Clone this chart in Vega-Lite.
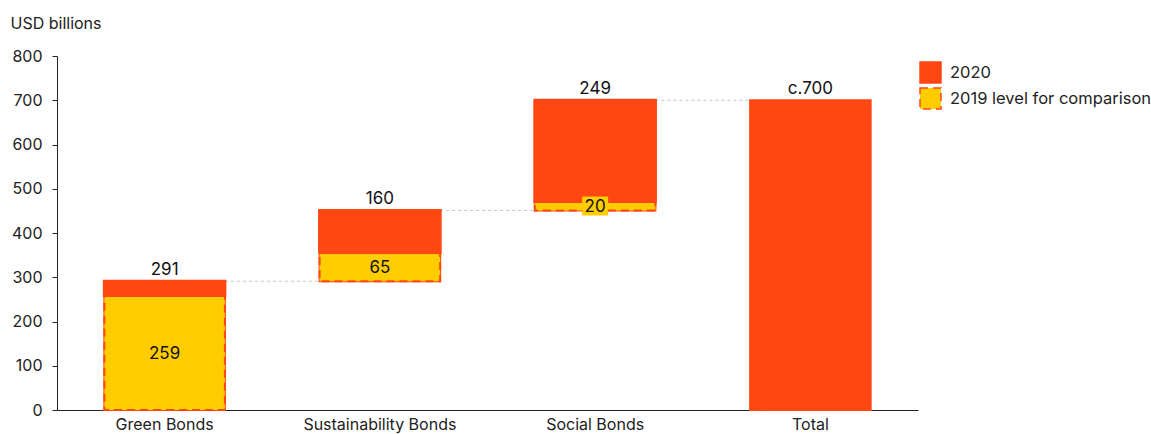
{
  "$schema": "https://vega.github.io/schema/vega-lite/v6.json",
  "width": 861,
  "height": 354,
  "autosize": {"type": "none"},
  "padding": {"left": 57, "top": 56, "right": 233, "bottom": 24},
  "background": "white",
  "config": {
    "font": "Inter",
    "view": {"stroke": null},
    "axis": {"labelColor": "#222", "titleColor": "#222", "domainColor": "#222", "tickColor": "#222", "grid": false, "labelFontSize": 16, "titleFontSize": 16, "titleFontWeight": "normal", "labelFont": "Inter", "titleFont": "Inter"},
    "legend": {"labelFontSize": 16.5, "labelColor": "#222", "labelFont": "Inter"}
  },
  "datasets": {
    "bars": [
      {"category": "Green Bonds", "series": "2020", "start": 0, "end": 291},
      {"category": "Sustainability Bonds", "series": "2020", "start": 291, "end": 451},
      {"category": "Social Bonds", "series": "2020", "start": 451, "end": 700},
      {"category": "Total", "series": "2020", "start": 0, "end": 700},
      {"category": "Green Bonds", "series": "2019 level for comparison", "start": 0, "end": 259},
      {"category": "Sustainability Bonds", "series": "2019 level for comparison", "start": 291, "end": 356},
      {"category": "Social Bonds", "series": "2019 level for comparison", "start": 451, "end": 471}
    ],
    "increments": [
      {"category": "Green Bonds", "start": 259, "end": 291},
      {"category": "Sustainability Bonds", "start": 356, "end": 451},
      {"category": "Social Bonds", "start": 471, "end": 700}
    ],
    "toplabels": [
      {"category": "Green Bonds", "value": 291, "label": "291"},
      {"category": "Sustainability Bonds", "value": 451, "label": "160"},
      {"category": "Social Bonds", "value": 700, "label": "249"},
      {"category": "Total", "value": 700, "label": "c.700"}
    ],
    "innerlabels": [
      {"category": "Green Bonds", "mid": 129.5, "label": "259"},
      {"category": "Sustainability Bonds", "mid": 323.5, "label": "65"},
      {"category": "Social Bonds", "mid": 461, "label": "20"}
    ],
    "connectors": [
      {"from": "Green Bonds", "to": "Sustainability Bonds", "value": 291},
      {"from": "Sustainability Bonds", "to": "Social Bonds", "value": 451},
      {"from": "Social Bonds", "to": "Total", "value": 700}
    ]
  },
  "encoding": {
    "x": {"field": "category", "type": "nominal", "sort": ["Green Bonds", "Sustainability Bonds", "Social Bonds", "Total"],
      "scale": {"domain": ["Green Bonds", "Sustainability Bonds", "Social Bonds", "Total"], "paddingInner": 0, "paddingOuter": 0},
      "axis": {"title": null, "labelAngle": 0, "ticks": false, "labelPadding": 6, "domainWidth": 1}}
  },
  "layer": [
    {
      "data": {"name": "connectors"},
      "mark": {"type": "rule", "color": "#c4c4c4", "strokeDash": [3, 3], "strokeWidth": 1},
      "encoding": {
        "x": {"field": "from", "type": "nominal", "bandPosition": 0.78},
        "x2": {"field": "to", "bandPosition": 0.22},
        "y": {"field": "value", "type": "quantitative"}
      }
    },
    {
      "data": {"name": "bars"},
      "mark": {"type": "bar", "width": {"band": 0.56}, "stroke": "#FF4713", "strokeWidth": 2},
      "encoding": {
        "y": {"field": "start", "type": "quantitative",
          "scale": {"domain": [0, 800], "nice": false},
          "axis": {"title": "USD billions", "values": [0, 100, 200, 300, 400, 500, 600, 700, 800], "tickSize": 5, "labelPadding": 10,
            "titleAngle": 0, "titleAlign": "left", "titleBaseline": "alphabetic", "titleX": -47, "titleY": -28}},
        "y2": {"field": "end"},
        "fill": {"field": "series", "type": "nominal",
          "scale": {"domain": ["2020", "2019 level for comparison"], "range": ["#FF4713", "#FFCC00"]},
          "legend": {"title": null, "orient": "none", "legendX": 862, "legendY": 5, "symbolType": "square", "symbolSize": 440, "rowPadding": -1, "labelOffset": 8, "padding": 0, "labelLimit": 400, "symbolOpacity": 1,
            "encode": {"symbols": {"update": {
              "stroke": {"value": "#FF4713"},
              "strokeWidth": {"value": 2},
              "strokeDash": [{"test": "datum.value === '2020'", "value": [1, 0]}, {"value": [7, 4]}]
            }}}}},
        "strokeDash": {"field": "series", "type": "nominal",
          "scale": {"domain": ["2020", "2019 level for comparison"], "range": [[1, 0], [8, 5]]},
          "legend": null}
      }
    },
    {
      "data": {"name": "increments"},
      "mark": {"type": "bar", "width": {"band": 0.56}, "fill": "#FF4713", "stroke": "#FF4713", "strokeWidth": 3},
      "encoding": {
        "y": {"field": "start", "type": "quantitative"},
        "y2": {"field": "end"}
      }
    },
    {
      "data": {"name": "innerlabels"},
      "transform": [{"filter": "datum.label == '20'"}],
      "mark": {"type": "point", "shape": "M-1,-0.73H1V0.73H-1Z", "filled": true, "fill": "#FFCC00", "opacity": 1, "size": 676, "strokeWidth": 0},
      "encoding": {
        "y": {"field": "mid", "type": "quantitative"}
      }
    },
    {
      "data": {"name": "innerlabels"},
      "mark": {"type": "text", "fontSize": 17, "color": "#111", "baseline": "middle", "dy": 1},
      "encoding": {
        "y": {"field": "mid", "type": "quantitative"},
        "text": {"field": "label"}
      }
    },
    {
      "data": {"name": "toplabels"},
      "mark": {"type": "text", "fontSize": 17, "color": "#111", "baseline": "alphabetic", "dy": -6},
      "encoding": {
        "y": {"field": "value", "type": "quantitative"},
        "text": {"field": "label"}
      }
    }
  ]
}
